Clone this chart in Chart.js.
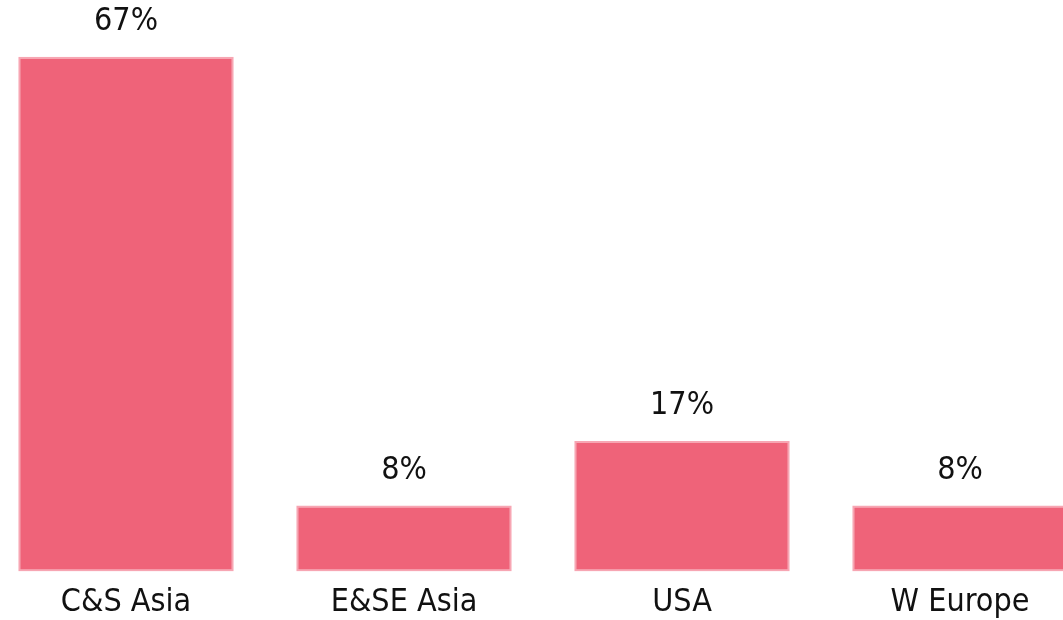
<!DOCTYPE html>
<html>
<head>
<meta charset="utf-8">
<script src="https://cdn.jsdelivr.net/npm/chart.js@4.4.1/dist/chart.umd.min.js"></script>
<style>
  html, body { margin: 0; padding: 0; background: #ffffff; overflow: hidden; }
  #wrap { position: absolute; left: -13px; top: 0; width: 1112px; height: 626px; }
</style>
</head>
<body>
<div id="wrap"><canvas id="shareChart"></canvas></div>
<script>
// 지역별 비중 (12개 중 비율)
const regions = ['C&S Asia', 'E&SE Asia', 'USA', 'W Europe'];
const shares = [66.7, 8.3, 16.7, 8.3];
const shareLabels = ['67%', '8%', '17%', '8%'];

const FONT = '"DejaVu Sans Condensed", "DejaVu Sans", sans-serif';
const BASE = -0.3; // 막대 아래쪽 약간의 여유

// 막대 위에 퍼센트 텍스트를 그리는 간단한 플러그인
const barValueLabels = {
    id: 'barValueLabels',
    afterDatasetsDraw(chart) {
        const ctx = chart.ctx;
        const meta = chart.getDatasetMeta(0);
        ctx.save();
        ctx.font = '32px ' + FONT;
        ctx.fillStyle = '#111111';
        ctx.textAlign = 'center';
        ctx.textBaseline = 'middle';
        meta.data.forEach((bar, i) => {
            ctx.fillText(shareLabels[i], bar.x, bar.y - 35);
        });
        ctx.restore();
    }
};

const ctx = document.getElementById('shareChart').getContext('2d');
new Chart(ctx, {
    type: 'bar',
    data: {
        labels: regions,
        datasets: [{
            data: shares,
            base: BASE,
            backgroundColor: '#ef6379',
            borderColor: '#f7a6b3',
            borderWidth: 2,
            borderSkipped: false,
            categoryPercentage: 1.0,
            barPercentage: 0.775
        }]
    },
    options: {
        responsive: true,
        maintainAspectRatio: false,
        animation: false,
        layout: { padding: { top: 31, bottom: 0, left: 0, right: 0 } },
        plugins: {
            legend: { display: false },
            tooltip: { enabled: false }
        },
        scales: {
            x: {
                grid: { display: false },
                border: { display: false },
                ticks: {
                    color: '#111111',
                    padding: 4,
                    font: { family: FONT, size: 32 }
                }
            },
            y: {
                display: false,
                min: BASE,
                max: 70.05
            }
        }
    },
    plugins: [barValueLabels]
});
</script>
</body>
</html>
